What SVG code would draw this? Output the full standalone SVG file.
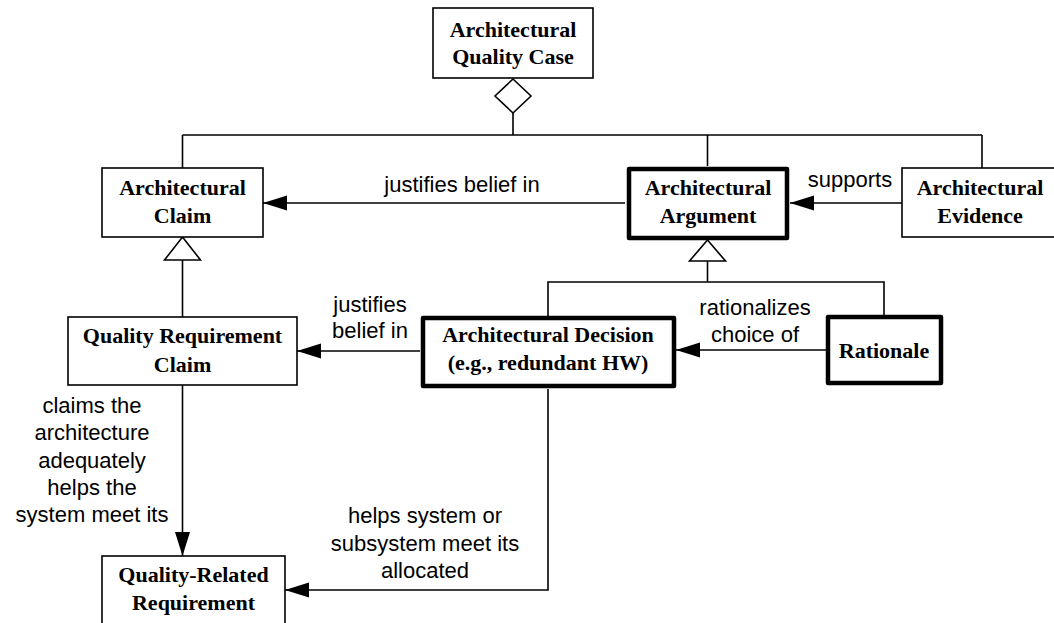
<svg xmlns="http://www.w3.org/2000/svg" width="1054" height="623" viewBox="0 0 1054 623">
  <style>
    .box { fill: #fff; stroke: #000; stroke-width: 1.6; }
    .bold-box { fill: #fff; stroke: #000; stroke-width: 4.5; stroke-linejoin: round; }
    .name { font-family: "Liberation Serif", "Times New Roman", serif; font-weight: bold; font-size: 22px; text-anchor: middle; fill: #000; }
    .lbl { font-family: "Liberation Sans", Arial, sans-serif; font-size: 22px; text-anchor: middle; fill: #000; }
    .wire { fill: none; stroke: #000; stroke-width: 1.6; }
    .hollow { fill: #fff; stroke: #000; stroke-width: 1.6; }
  </style>
  <defs>
    <marker id="arrow" markerUnits="userSpaceOnUse" markerWidth="26" markerHeight="18" viewBox="0 0 26 18" refX="24" refY="9" orient="auto">
      <path d="M0,1.5 L24,9 L0,16.5 Z" fill="#000"/>
    </marker>
  </defs>

  <rect width="1054" height="623" fill="#fff"/>

  <!-- connectors -->
  <g id="connectors">
    <!-- aggregation bus under the quality case -->
    <line class="wire" x1="513" y1="112" x2="513" y2="135"/>
    <line class="wire" x1="182.5" y1="135" x2="982" y2="135"/>
    <line class="wire" x1="182.5" y1="135" x2="182.5" y2="168"/>
    <line class="wire" x1="707.5" y1="135" x2="707.5" y2="166"/>
    <line class="wire" x1="982" y1="135" x2="982" y2="168"/>
    <polygon class="hollow" points="513,79 531,96 513,113 495,96"/>

    <!-- justifies belief in (argument -> claim) -->
    <line class="wire" x1="625" y1="203" x2="263" y2="203" marker-end="url(#arrow)"/>
    <!-- supports (evidence -> argument) -->
    <line class="wire" x1="902" y1="203" x2="790" y2="203" marker-end="url(#arrow)"/>

    <!-- generalization: quality requirement claim -> architectural claim -->
    <line class="wire" x1="182.5" y1="260" x2="182.5" y2="317"/>
    <polygon class="hollow" points="182.5,237 200.5,260 164.5,260"/>

    <!-- generalization: decision / rationale -> argument -->
    <line class="wire" x1="707.5" y1="261" x2="707.5" y2="282"/>
    <polyline class="wire" points="548,316 548,282 884,282 884,316"/>
    <polygon class="hollow" points="707.5,240 725.5,261 689.5,261"/>

    <!-- justifies belief in (decision -> quality requirement claim) -->
    <line class="wire" x1="420" y1="351" x2="297" y2="351" marker-end="url(#arrow)"/>
    <!-- rationalizes choice of (rationale -> decision) -->
    <line class="wire" x1="826" y1="350" x2="676" y2="350" marker-end="url(#arrow)"/>

    <!-- claims ... meet its (quality requirement claim -> requirement) -->
    <line class="wire" x1="182.5" y1="385" x2="182.5" y2="556" marker-end="url(#arrow)"/>
    <!-- helps system ... allocated (decision -> requirement) -->
    <polyline class="wire" points="548,389 548,590 285,590" marker-end="url(#arrow)"/>
  </g>

  <!-- connector labels -->
  <g id="labels">
    <text class="lbl" x="462" y="192">justifies belief in</text>
    <text class="lbl" x="850" y="187">supports</text>
    <text class="lbl" x="370" y="312">justifies</text>
    <text class="lbl" x="370" y="338">belief in</text>
    <text class="lbl" x="755" y="315">rationalizes</text>
    <text class="lbl" x="755" y="342">choice of</text>
    <text class="lbl" x="92" y="413">claims the</text>
    <text class="lbl" x="92" y="440">architecture</text>
    <text class="lbl" x="92" y="468">adequately</text>
    <text class="lbl" x="92" y="495">helps the</text>
    <text class="lbl" x="92" y="522">system meet its</text>
    <text class="lbl" x="425" y="523">helps system or</text>
    <text class="lbl" x="425" y="551">subsystem meet its</text>
    <text class="lbl" x="425" y="578">allocated</text>
  </g>

  <!-- nodes -->
  <g id="quality-case">
    <rect class="box" x="433" y="8" width="160" height="70"/>
    <text class="name" x="513" y="37">Architectural</text>
    <text class="name" x="513" y="64">Quality Case</text>
  </g>

  <g id="claim">
    <rect class="box" x="102" y="168" width="161" height="69"/>
    <text class="name" x="182.5" y="195">Architectural</text>
    <text class="name" x="182.5" y="223">Claim</text>
  </g>

  <g id="argument">
    <rect class="bold-box" x="629" y="169" width="158" height="69"/>
    <text class="name" x="708" y="195">Architectural</text>
    <text class="name" x="708" y="223">Argument</text>
  </g>

  <g id="evidence">
    <rect class="box" x="902" y="168" width="170" height="69"/>
    <text class="name" x="980" y="195">Architectural</text>
    <text class="name" x="980" y="223">Evidence</text>
  </g>

  <g id="quality-requirement-claim">
    <rect class="box" x="68" y="317" width="229" height="68"/>
    <text class="name" x="182.5" y="343">Quality Requirement</text>
    <text class="name" x="182.5" y="372">Claim</text>
  </g>

  <g id="decision">
    <rect class="bold-box" x="423" y="318" width="251" height="68"/>
    <text class="name" x="548" y="342">Architectural Decision</text>
    <text class="name" x="548" y="370">(e.g., redundant HW)</text>
  </g>

  <g id="rationale">
    <rect class="bold-box" x="828" y="317" width="113" height="66"/>
    <text class="name" x="884" y="358">Rationale</text>
  </g>

  <g id="quality-related-requirement">
    <rect class="box" x="102" y="556" width="183" height="80"/>
    <text class="name" x="193.5" y="582">Quality-Related</text>
    <text class="name" x="193.5" y="610">Requirement</text>
  </g>
</svg>
